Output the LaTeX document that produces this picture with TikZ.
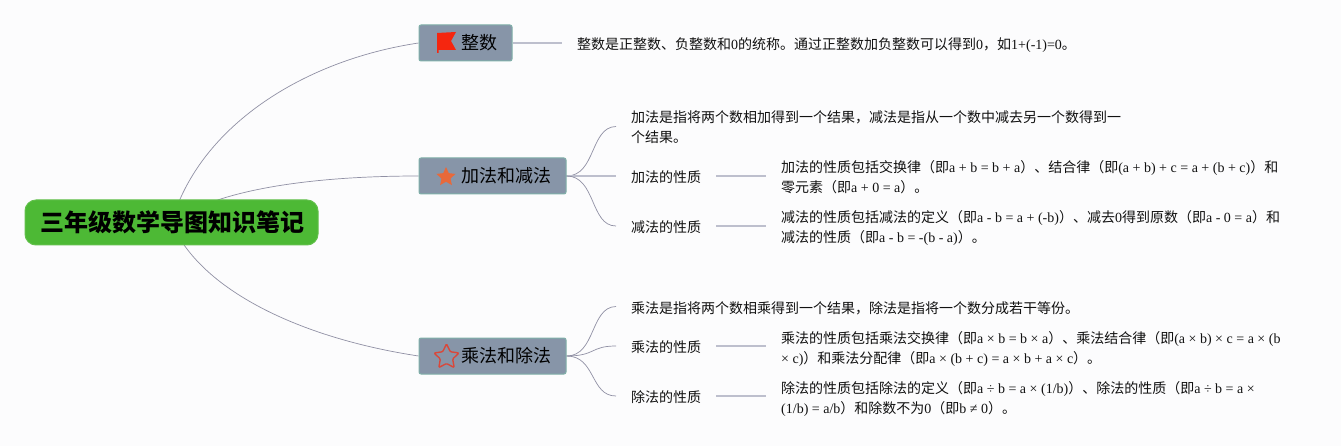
\documentclass[tikz,border=0pt]{standalone}
\usepackage{fontspec}
\setmainfont{Noto Sans CJK SC}
\newfontfamily\latfont{Liberation Serif}
\usetikzlibrary{shapes.geometric,backgrounds}
\newcommand\en[1]{{\latfont #1}}
\newcommand\lstrut{\rule[-3.5pt]{0pt}{20pt}}
\definecolor{pagebg}{HTML}{FCFCFD}
\definecolor{boxfill}{HTML}{8795A8}
\definecolor{boxedge}{HTML}{7FB0A8}
\definecolor{rootfill}{HTML}{4DB935}
\definecolor{rootedge}{HTML}{62C04C}
\definecolor{curveline}{HTML}{9090A4}
\definecolor{leafline}{HTML}{BDBFCD}
\definecolor{inktext}{HTML}{111111}
\definecolor{flagred}{HTML}{F5260F}
\definecolor{starorange}{HTML}{E8693A}
\definecolor{starred}{HTML}{D9483A}
\tikzset{
 x=1pt,y=-1pt,
 rootbox/.style={draw=rootedge,fill=rootfill,line width=1pt,rounded corners=11pt,minimum width=293pt,minimum height=45pt,inner sep=0pt,font=\fontsize{24}{28}\selectfont\bfseries,text=black},
 mainbox/.style={draw=boxedge,fill=boxfill,line width=1pt,rounded corners=2pt,minimum height=36pt,inner sep=0pt,font=\fontsize{18}{22}\selectfont,text=black},
 leaf/.style={anchor=west,align=left,inner xsep=15pt,inner ysep=0pt,font=\fontsize{14}{20}\selectfont,text=inktext},
 curve/.style={draw=curveline,line width=0.7pt},
 straight/.style={draw=leafline,line width=1.3pt},
}
\begin{document}
\begin{tikzpicture}
\useasboundingbox (0,0) rectangle (1341,446);

\node[rootbox] (root) at (171.5,222.5) {\hspace{2pt}\raisebox{-1.5pt}{三年级数学导图知识笔记}};
\node[mainbox,minimum width=93pt] (int) at (465.5,43) {\hspace{27pt}\raisebox{-1.5pt}{整数}};
\node[mainbox,minimum width=147pt] (add) at (492.5,176) {\hspace{27pt}\raisebox{-1.5pt}{加法和减法}};
\node[mainbox,minimum width=147pt] (mul) at (492.5,356) {\hspace{27pt}\raisebox{-1.5pt}{乘法和除法}};

\fill[flagred] (437,33) -- (456,32) -- (451,41) -- (456,50) -- (438.5,50) -- (438.5,53) -- (437,53) -- cycle;
\node[star,star points=5,star point ratio=2.1,fill=starorange,inner sep=0pt,minimum size=20pt] (addicon) at (446,177) {};
\node[star,star points=5,star point ratio=2.0,draw=starred,line width=1.4pt,rounded corners=1pt,inner sep=0pt,minimum size=26pt] (mulicon) at (446.5,357) {};

\node[leaf] (intd) at (562,43.5) {\lstrut 整数是正整数、负整数和\en{0}的统称。通过正整数加负整数可以得到\en{0}，如\en{1+(-1)=0}。};

\node[leaf] (adef) at (616,126.5) {\lstrut 加法是指将两个数相加得到一个结果，减法是指从一个数中减去另一个数得到一\\\lstrut 个结果。};
\node[leaf] (aadd) at (616,176) {\lstrut 加法的性质};
\node[leaf] (asub) at (616,226) {\lstrut 减法的性质};
\node[leaf] (aaddd) at (766,176.5) {\lstrut 加法的性质包括交换律（即\en{a + b = b + a}）、结合律（即\en{(a + b) + c = a + (b + c)}）和\\\lstrut 零元素（即\en{a + 0 = a}）。};
\node[leaf] (asubd) at (766,226.5) {\lstrut 减法的性质包括减法的定义（即\en{a - b = a + (-b)}）、减去\en{0}得到原数（即\en{a - 0 = a}）和\\\lstrut 减法的性质（即\en{a - b = -(b - a)}）。};

\node[leaf] (mdef) at (616,306.5) {\lstrut 乘法是指将两个数相乘得到一个结果，除法是指将一个数分成若干等份。};
\node[leaf] (mmul) at (616,346) {\lstrut 乘法的性质};
\node[leaf] (mdiv) at (616,396) {\lstrut 除法的性质};
\node[leaf] (mmuld) at (766,346.5) {\lstrut 乘法的性质包括乘法交换律（即\en{a × b = b × a}）、乘法结合律（即\en{(a × b) × c = a × (b}\\\lstrut \en{× c)}）和乘法分配律（即\en{a × (b + c) = a × b + a × c}）。};
\node[leaf] (mdivd) at (766,396.5) {\lstrut 除法的性质包括除法的定义（即\en{a ÷ b = a × (1/b)}）、除法的性质（即\en{a ÷ b = a ×}\\\lstrut \en{(1/b) = a/b}）和除数不为\en{0}（即\en{b ≠ 0}）。};

\begin{scope}[on background layer]
\fill[pagebg] (0,0) rectangle (1341,446);
\draw[curve] (root.center) .. controls (200,125) and (305,60) .. (int.west);
\draw[curve] (root.center) .. controls (215,190) and (310,176) .. (add.west);
\draw[curve] (root.center) .. controls (200,290) and (300,338) .. (mul.west);
\draw[straight] (int.east) -- (int.east -| intd.west);
\draw[curve] (add.east) .. controls (596,176) and (590,127) .. (adef.west);
\draw[straight] ([xshift=-1pt]add.east) -- (aadd.west);
\draw[curve] (add.east) .. controls (596,176) and (590,226) .. (asub.west);
\draw[straight] (aadd.east) -- (aadd.east -| aaddd.west);
\draw[straight] (asub.east) -- (asub.east -| asubd.west);
\draw[curve] (mul.east) .. controls (596,356) and (590,307) .. (mdef.west);
\draw[curve] (mul.east) .. controls (596,356) and (590,346) .. (mmul.west);
\draw[curve] (mul.east) .. controls (596,356) and (590,396) .. (mdiv.west);
\draw[straight] (mmul.east) -- (mmul.east -| mmuld.west);
\draw[straight] (mdiv.east) -- (mdiv.east -| mdivd.west);
\end{scope}
\end{tikzpicture}
\end{document}
